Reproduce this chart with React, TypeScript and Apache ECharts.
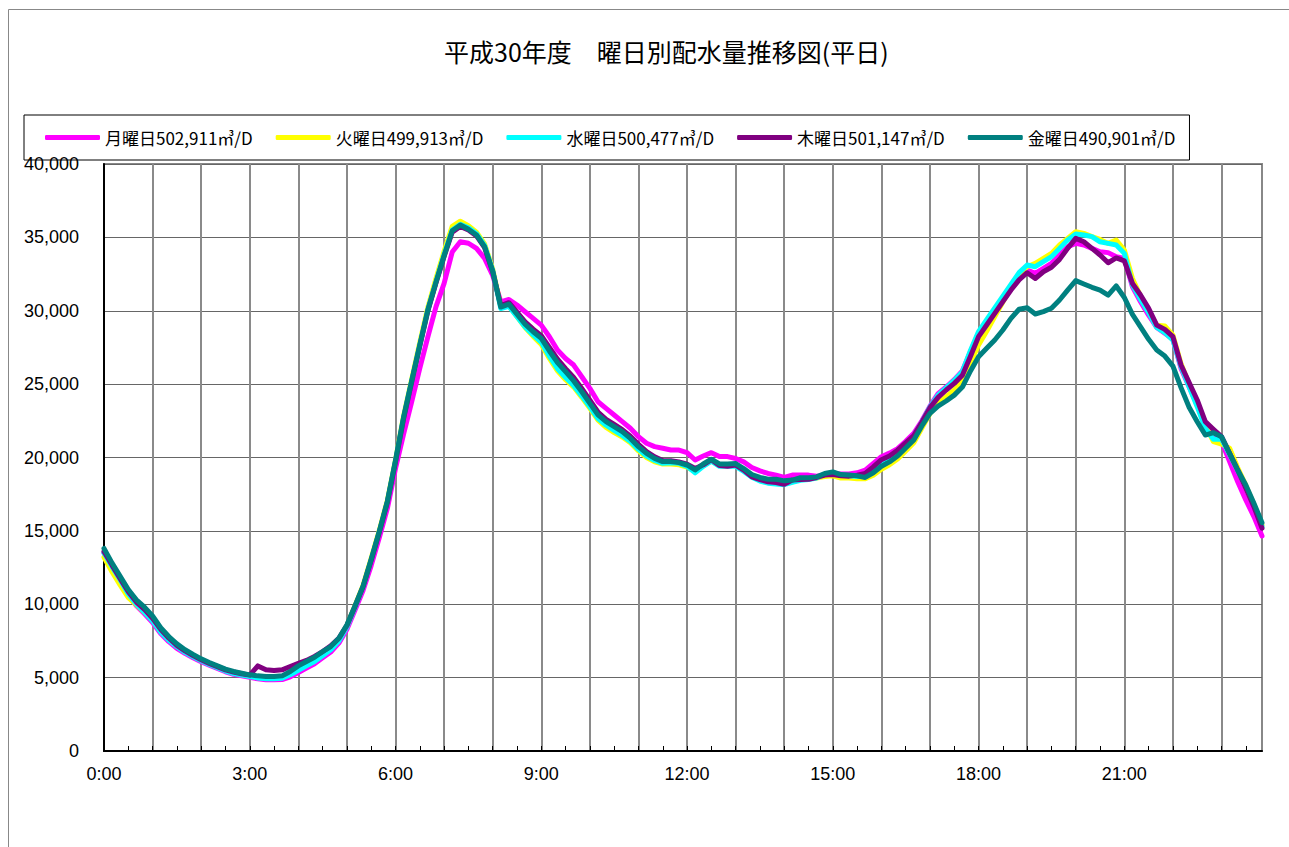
import React, { useEffect, useRef } from "react";
import * as echarts from "echarts";

const TITLE = "平成30年度　曜日別配水量推移図(平日)";
const SERIES_NAMES = [
  "月曜日502,911㎥/D",
  "火曜日499,913㎥/D",
  "水曜日500,477㎥/D",
  "木曜日501,147㎥/D",
  "金曜日490,901㎥/D",
];
const COLORS = ["#FF00FF", "#FFFF00", "#00FFFF", "#800080", "#008080"];

// 10-minute time slots 0:00 .. 23:50
const HOURS = Array.from({ length: 24 }, (_, h) => h);
const MINUTES = ["00", "10", "20", "30", "40", "50"];
const CATEGORIES: string[] = [];
HOURS.forEach((h) => MINUTES.forEach((m) => CATEGORIES.push(`${h}:${m}`)));

const Y_TICKS = [0, 5000, 10000, 15000, 20000, 25000, 30000, 35000, 40000];

// 月曜日
const MON = [
  13500, 12500, 11550, 10600, 9900, 9350,
  8750, 8000, 7450, 7000, 6650, 6350,
  6080, 5850, 5630, 5400, 5230, 5120,
  5020, 4920, 4850, 4850, 4870, 5050,
  5350, 5650, 5950, 6350, 6750, 7350,
  8300, 9600, 10950, 12650, 14550, 16550,
  19250, 21600, 23800, 26080, 28240, 30280,
  31870, 34000, 34700, 34600, 34250, 33570,
  32400, 30610, 30770, 30390, 29930, 29480,
  29020, 28230, 27320, 26750, 26300, 25500,
  24710, 23800, 23350, 22900, 22440, 21990,
  21420, 20970, 20740, 20630, 20510, 20510,
  20330, 19830, 20100, 20330, 20060, 20060,
  19930, 19700, 19320, 19090, 18910, 18800,
  18640, 18800, 18800, 18800, 18730, 18800,
  18910, 18870, 18870, 18960, 19140, 19590,
  20050, 20300, 20600, 21100, 21650, 22500,
  23500, 24350, 24800, 25300, 25900, 27200,
  28460, 29200, 29950, 30730, 31500, 32200,
  32780, 32550, 32890, 33230, 33800, 34360,
  34590, 34480, 34250, 34020, 33960, 33680,
  33570, 31630, 30610, 29700, 28860, 28460,
  28050, 26070, 24820, 23580, 22210, 21530,
  21080, 19720, 18350, 17110, 15970, 14650,
];

// 火曜日
const TUE = [
  13200, 12200, 11300, 10450, 9950, 9450,
  8900, 8150, 7600, 7150, 6780, 6480,
  6200, 5950, 5720, 5500, 5330, 5210,
  5110, 5030, 5000, 5000, 5050, 5300,
  5650, 5950, 6250, 6650, 7000, 7600,
  8550, 9900, 11300, 13150, 15050, 17100,
  19850, 22850, 25350, 27850, 30250, 32200,
  34050, 35750, 36100, 35800, 35350, 34550,
  32850, 30300, 30350, 29600, 28850, 28250,
  27700, 26750, 25900, 25300, 24800, 24100,
  23350, 22550, 22050, 21700, 21400, 21000,
  20450, 20000, 19700, 19550, 19550, 19500,
  19350, 19050, 19450, 19750, 19450, 19450,
  19500, 19150, 18750, 18500, 18350, 18300,
  18200, 18350, 18500, 18550, 18600, 18700,
  18750, 18600, 18600, 18550, 18550, 18800,
  19200, 19500, 19900, 20450, 21000, 22000,
  23000, 23700, 24150, 24600, 25200, 26450,
  27670, 28600, 29600, 30600, 31600, 32500,
  33000, 33230, 33570, 33910, 34480, 34930,
  35390, 35270, 35050, 34860, 34590, 34820,
  34140, 32200, 31000, 30000, 29020, 28960,
  28340, 26400, 25000, 23600, 22200, 21080,
  20920, 20630, 19300, 18100, 16800, 15400,
];

// 水曜日
const WED = [
  13500, 12550, 11650, 10700, 10000, 9450,
  8850, 8100, 7550, 7100, 6720, 6420,
  6150, 5900, 5680, 5450, 5280, 5170,
  5080, 4980, 4930, 4930, 4960, 5200,
  5500, 5800, 6100, 6500, 6900, 7500,
  8450, 9800, 11200, 13050, 14950, 17000,
  19800, 22750, 25250, 27700, 30100, 32000,
  33850, 35500, 35900, 35650, 35250, 34450,
  32750, 30150, 30300, 29600, 28900, 28350,
  27850, 26900, 26050, 25450, 24900, 24200,
  23450, 22650, 22200, 21850, 21500, 21100,
  20550, 20100, 19800, 19600, 19650, 19600,
  19400, 18950, 19400, 19750, 19400, 19400,
  19400, 19050, 18650, 18400, 18250, 18200,
  18150, 18300, 18450, 18500, 18600, 18850,
  18950, 18800, 18750, 18700, 18700, 19200,
  19700, 20000, 20400, 20900, 21450, 22400,
  23450, 24250, 24750, 25250, 25850, 27300,
  28580, 29400, 30200, 31000, 31800, 32600,
  33120, 33000, 33340, 33680, 34250, 34820,
  35230, 35160, 35050, 34700, 34590, 34480,
  33910, 31750, 30770, 29860, 28860, 28500,
  28000, 26190, 24820, 23460, 21990, 21240,
  21240, 20200, 19100, 18000, 16700, 15300,
];

// 木曜日
const THU = [
  13600, 12650, 11750, 10850, 10150, 9650,
  9050, 8300, 7700, 7200, 6820, 6500,
  6220, 5970, 5750, 5530, 5380, 5260,
  5170, 5800, 5530, 5480, 5530, 5760,
  5980, 6170, 6440, 6780, 7160, 7680,
  8550, 9850, 11200, 13000, 14900, 16950,
  19700, 22650, 25150, 27600, 30000, 31900,
  33700, 35350, 35750, 35500, 35100, 34300,
  32650, 30350, 30550, 29900, 29250, 28750,
  28300, 27500, 26700, 26050, 25450, 24700,
  23900, 23100, 22600, 22250, 21900, 21450,
  20900, 20400, 20050, 19800, 19780, 19700,
  19550, 19250, 19500, 19850, 19450, 19400,
  19480, 19140, 18680, 18500, 18340, 18300,
  18180, 18460, 18500, 18520, 18640, 18800,
  18840, 18750, 18730, 18800, 18910, 19360,
  19850, 20100, 20500, 21000, 21500, 22400,
  23400, 24100, 24600, 25050, 25600, 26900,
  28240, 29030, 29820, 30620, 31410, 32100,
  32590, 32200, 32660, 32960, 33500, 34250,
  34930, 34700, 34250, 33800, 33270, 33600,
  33400, 31860, 31070, 30160, 29020, 28730,
  28230, 26300, 25100, 23920, 22440, 21920,
  21420, 20280, 19150, 17900, 16650, 15180,
];

// 金曜日
const FRI = [
  13800, 12800, 11900, 11000, 10300, 9800,
  9200, 8400, 7800, 7300, 6900, 6580,
  6280, 6030, 5800, 5580, 5420, 5300,
  5190, 5120, 5080, 5080, 5120, 5420,
  5800, 6100, 6390, 6780, 7120, 7680,
  8600, 9900, 11250, 13070, 14980, 17030,
  19790, 22740, 25220, 27670, 30050, 31950,
  33750, 35450, 35840, 35550, 35160, 34360,
  32700, 30250, 30450, 29760, 29080, 28570,
  28120, 27260, 26470, 25850, 25220, 24480,
  23690, 22900, 22440, 22100, 21760, 21300,
  20740, 20280, 19940, 19720, 19720, 19650,
  19490, 19150, 19560, 19880, 19560, 19560,
  19590, 19250, 18840, 18640, 18520, 18520,
  18410, 18460, 18620, 18620, 18680, 18910,
  19020, 18840, 18800, 18750, 18640, 18960,
  19400, 19700, 20100, 20650, 21200, 22150,
  23000, 23500, 23850, 24250, 24800, 25900,
  26870, 27440, 28010, 28690, 29480, 30100,
  30200, 29780, 29940, 30170, 30730, 31410,
  32050, 31820, 31600, 31410, 31070, 31690,
  30900, 29750, 28900, 28050, 27320, 26910,
  26230, 24760, 23420, 22440, 21530, 21690,
  21420, 20280, 19150, 18130, 16880, 15560,
];

const DATA = [MON, TUE, WED, THU, FRI];

const CJK = '"Noto Sans CJK JP", "Noto Sans", sans-serif';
const LATIN = '"Liberation Sans", Arial, sans-serif';

export default function App() {
  const ref = useRef<HTMLDivElement>(null);

  useEffect(() => {
    if (!ref.current) return;
    const chart = echarts.init(ref.current, undefined, { renderer: "svg" });
    const option: any = {
      animation: false,
      backgroundColor: "#ffffff",
      title: {
        text: TITLE,
        left: 444,
        top: 38,
        padding: 0,
        textStyle: {
          fontFamily: CJK,
          fontSize: 25,
          fontWeight: "normal",
          color: "#000",
        },
      },
      legend: {
        left: 24,
        top: 115,
        orient: "horizontal",
        padding: [14, 14, 14, 21],
        itemGap: 23,
        itemWidth: 55,
        itemHeight: 5,
        icon: "roundRect",
        borderColor: "#000",
        borderWidth: 1,
        data: SERIES_NAMES,
        textStyle: {
          fontFamily: CJK,
          fontSize: 17,
          color: "#000",
        },
      },
      graphic: [
        {
          type: "line",
          shape: { x1: 8.5, y1: 9.5, x2: 1289, y2: 9.5 },
          style: { stroke: "#888", lineWidth: 1 },
          silent: true,
        },
        {
          type: "line",
          shape: { x1: 8.5, y1: 9.5, x2: 8.5, y2: 847 },
          style: { stroke: "#888", lineWidth: 1 },
          silent: true,
        },
      ],
      grid: {
        left: 104,
        top: 164,
        right: 27,
        bottom: 96,
        show: true,
        borderColor: "#888",
        borderWidth: 2,
        containLabel: false,
      },
      xAxis: {
        type: "category",
        data: CATEGORIES,
        boundaryGap: false,
        axisLine: { show: true, lineStyle: { color: "#000", width: 2 } },
        axisTick: {
          show: true,
          inside: true,
          interval: 2,
          length: 5,
          lineStyle: { color: "#000", width: 1 },
        },
        axisLabel: {
          interval: 17,
          margin: 14,
          fontFamily: LATIN,
          fontSize: 18,
          color: "#000",
        },
        splitLine: {
          show: true,
          interval: 5,
          lineStyle: { color: "#8a8a8a", width: 2 },
        },
      },
      yAxis: {
        type: "value",
        min: Y_TICKS[0],
        max: Y_TICKS[Y_TICKS.length - 1],
        interval: 5000,
        axisLine: { show: true, lineStyle: { color: "#000", width: 2 } },
        axisTick: { show: false },
        axisLabel: {
          margin: 25,
          fontFamily: LATIN,
          fontSize: 18,
          color: "#000",
          formatter: (v: number) => v.toLocaleString("en-US"),
        },
        splitLine: { show: true, lineStyle: { color: "#666", width: 1 } },
      },
      series: SERIES_NAMES.map((name, i) => ({
        name,
        type: "line",
        data: DATA[i],
        showSymbol: false,
        symbol: "none",
        color: COLORS[i],
        lineStyle: { color: COLORS[i], width: 5, cap: "round", join: "round" },
        itemStyle: { color: COLORS[i] },
        emphasis: { disabled: true },
        z: 2 + i,
      })),
    };
    chart.setOption(option);
    return () => chart.dispose();
  }, []);

  return (
    <div
      ref={ref}
      style={{
        position: "absolute",
        left: 0,
        top: 0,
        width: "1289px",
        height: "847px",
      }}
    />
  );
}
